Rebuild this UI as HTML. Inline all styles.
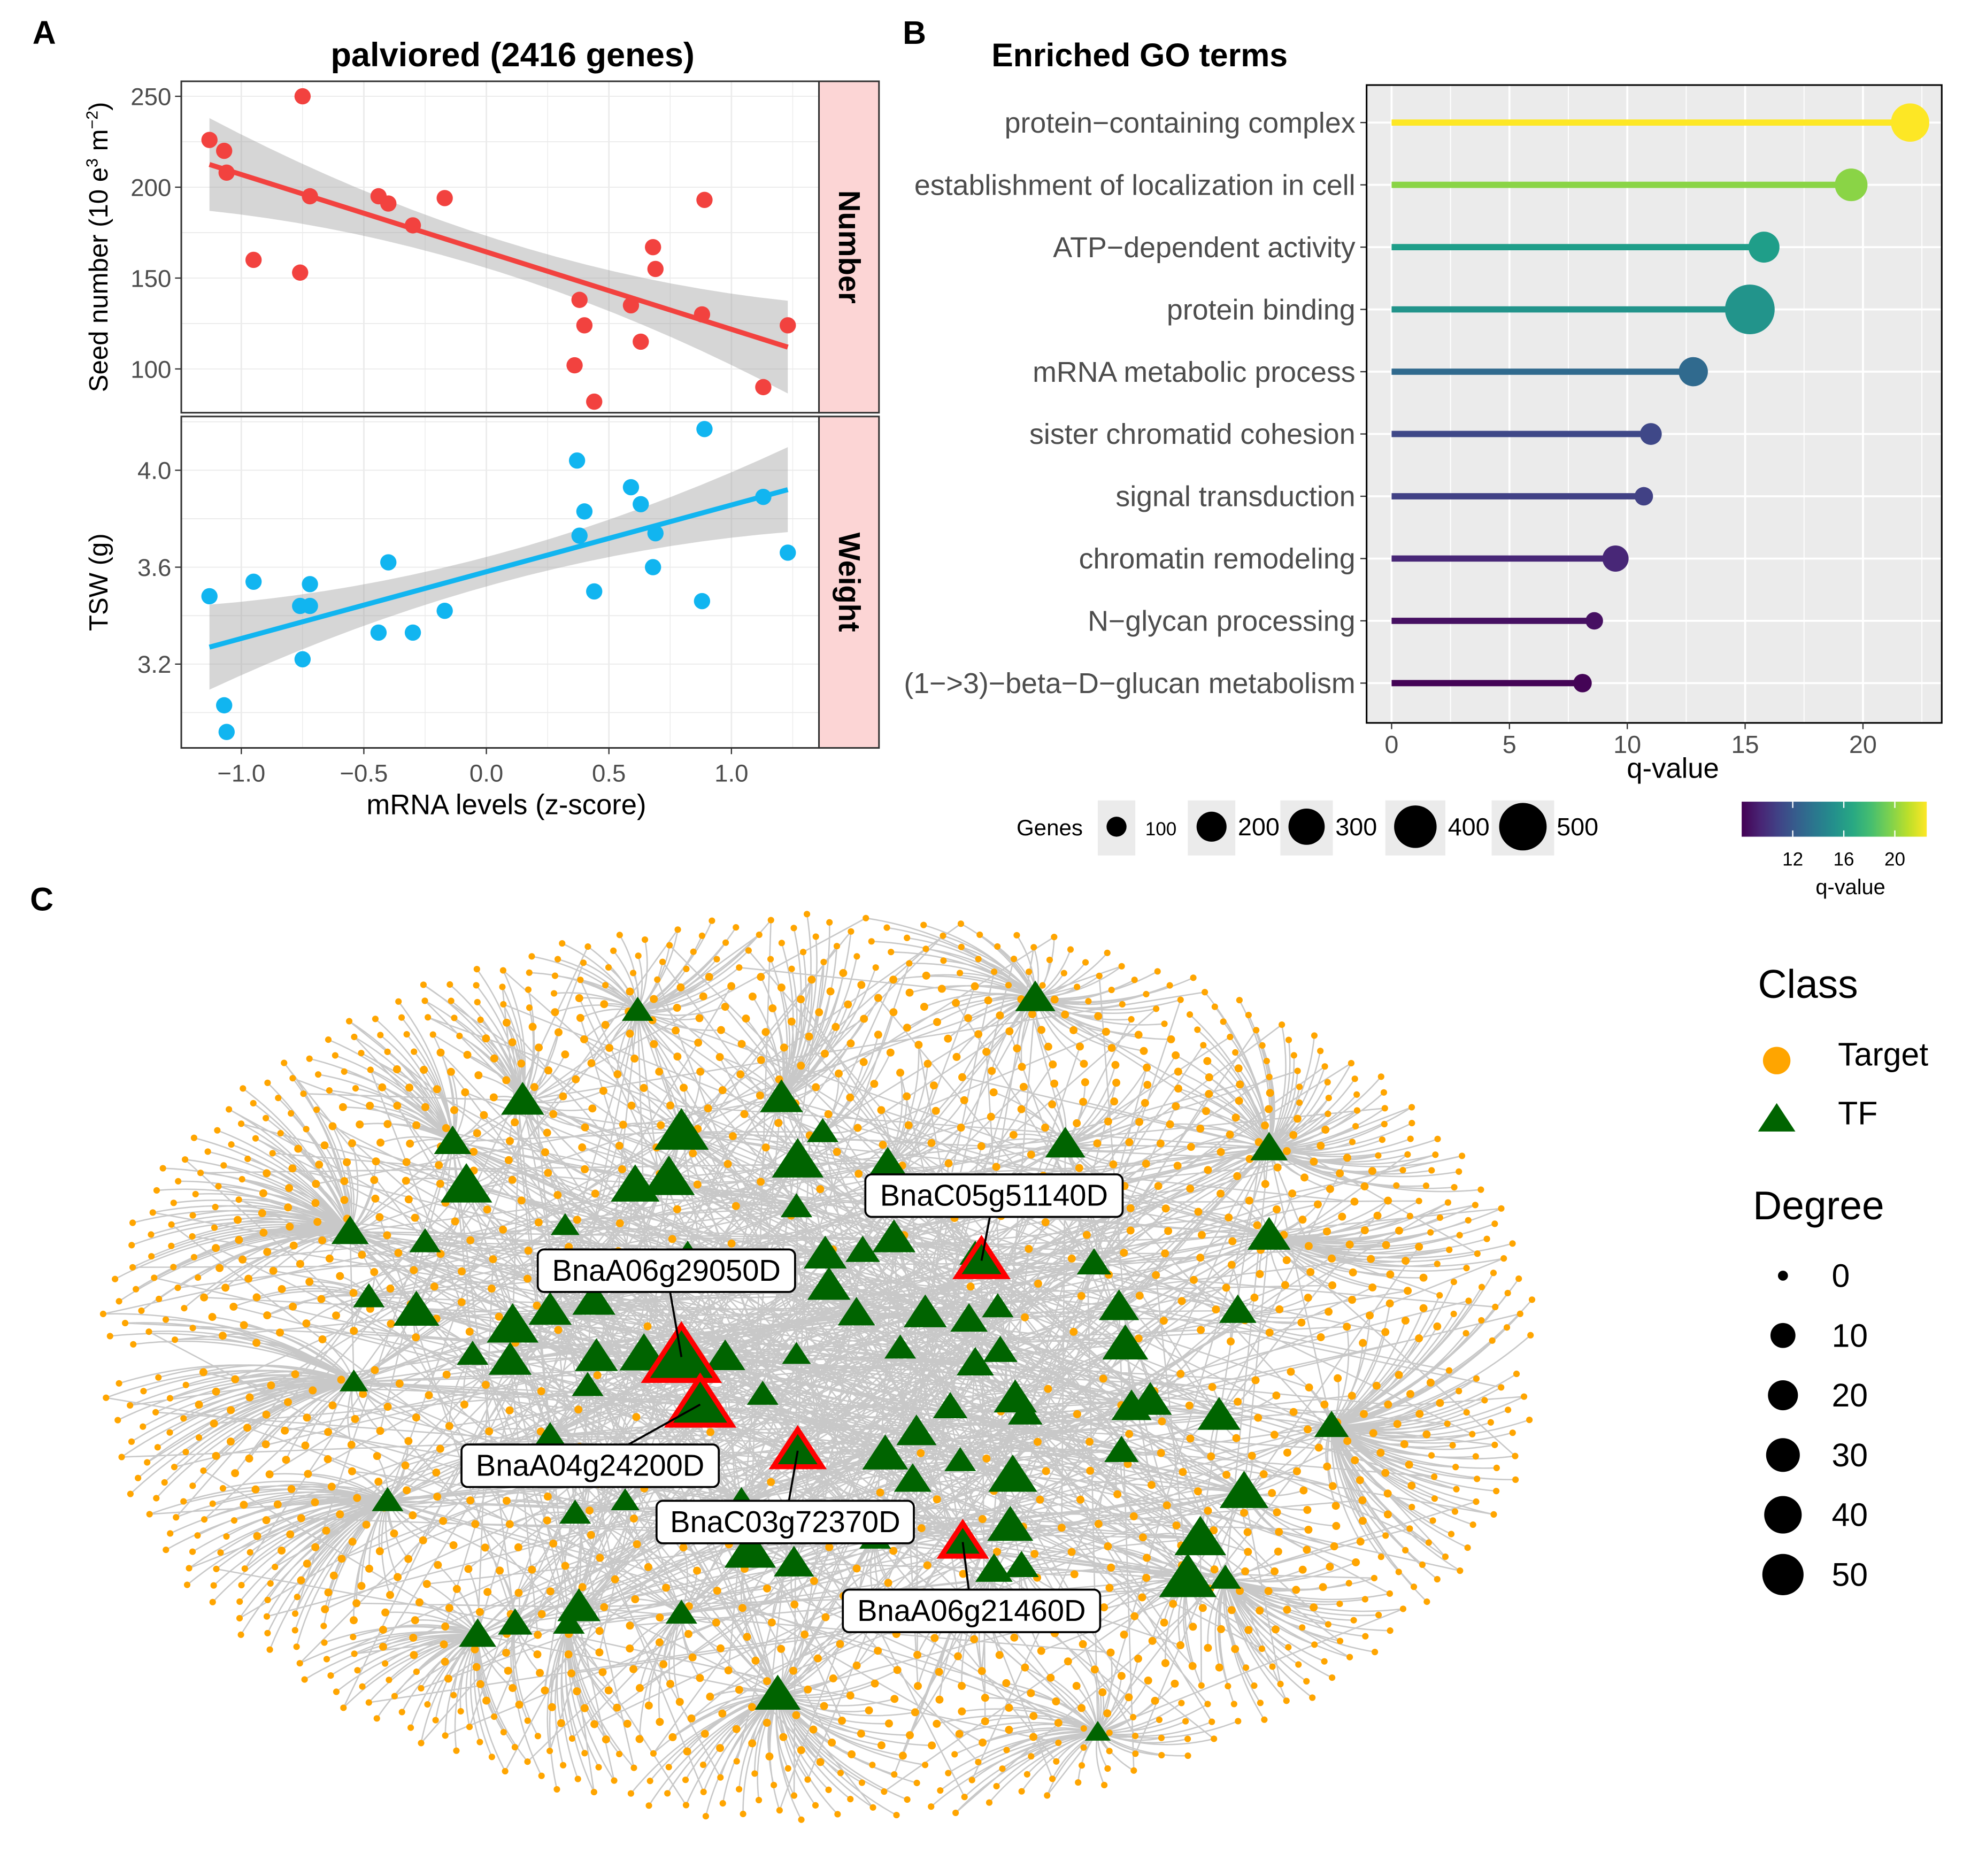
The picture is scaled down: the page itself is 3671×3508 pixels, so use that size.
<!DOCTYPE html>
<html><head><meta charset="utf-8">
<style>
html,body{margin:0;padding:0;background:#fff;}
svg{display:block;font-family:"Liberation Sans",Arial,sans-serif;}
</style></head>
<body>
<svg id="fig" width="3671" height="3508" viewBox="0 0 1570 1500" preserveAspectRatio="none" xmlns="http://www.w3.org/2000/svg">
<rect width="1570" height="1500" fill="#fff"/>
<g id="pa"></g>
<g id="pb"></g>
<g id="pc"></g>
</svg>
<script>
// ---------- Panel A data ----------
const aX = [-1.13,-1.07,-1.06,-0.75,-0.72,-0.95,-0.76,-0.44,-0.40,-0.30,-0.17,0.38,0.40,0.36,0.44,0.59,0.63,0.68,0.69,0.89,0.88,1.13,1.23];
const seedNum = [226,220,208,250,195,160,153,195,191,179,194,138,124,102,82,135,115,167,155,193,130,90,124];
const bX = [-1.13,-1.07,-1.06,-0.95,-0.76,-0.72,-0.72,-0.75,-0.44,-0.40,-0.30,-0.17,0.37,0.38,0.40,0.44,0.59,0.63,0.68,0.69,0.89,0.88,1.13,1.23];
const tsw = [3.48,3.03,2.92,3.54,3.44,3.44,3.53,3.22,3.33,3.62,3.33,3.42,4.04,3.73,3.83,3.50,3.93,3.86,3.60,3.74,4.17,3.46,3.89,3.66];
const xTicks = [-1.0,-0.5,0.0,0.5,1.0];
const numTicks = [100,150,200,250];
const tswTicks = [3.2,3.6,4.0];
// ---------- Panel B data ----------
const goTerms = ["protein\u2212containing complex","establishment of localization in cell","ATP\u2212dependent activity","protein binding","mRNA metabolic process","sister chromatid cohesion","signal transduction","chromatin remodeling","N\u2212glycan processing","(1\u2212>3)\u2212beta\u2212D\u2212glucan metabolism"];
const goQ = [22,19.5,15.8,15.2,12.8,11,10.7,9.5,8.6,8.1];
const goGenes = [230,150,130,440,110,45,25,80,20,25];
const qTicks = [0,5,10,15,20];

const NS="http://www.w3.org/2000/svg";
function el(tag,attrs,parent,txt){const e=document.createElementNS(NS,tag);for(const k in attrs)e.setAttribute(k,attrs[k]);if(txt!==undefined)e.textContent=txt;parent.appendChild(e);return e;}
const pa=document.getElementById('pa'),pb=document.getElementById('pb'),pc=document.getElementById('pc');

const ax=v=>389+v*196;
const ayTop=v=>77+(250-v)*1.4533;
const ayBot=v=>376+(4.0-v)*193.75;
let t;
t=el('text',{x:26,y:35,'font-size':26,'font-weight':'bold'},pa,'A');

t=el('text',{x:410,y:53,'font-size':27,'font-weight':'bold','text-anchor':'middle'},pa,'palviored (2416 genes)');

function facet(y0,y1,ticks,sy,xs,ys,col,lineA,lineB,strip,ytitle,name){
  const g=el('g',{},pa);
  el('rect',{x:145,y:y0,width:510,height:y1-y0,fill:'#fff'},g);
  for(let v=-1.25;v<=1.25;v+=0.25){const X=ax(v);if(X<145||X>655)continue;const major=Math.abs(v*2-Math.round(v*2))<1e-6;el('line',{x1:X,x2:X,y1:y0,y2:y1,stroke:'#ebebeb','stroke-width':major?1.2:0.6},g);}
  const step=ticks[1]-ticks[0];
  for(let v=ticks[0]-step;v<=ticks[ticks.length-1]+step;v+=step/2){const Y=sy(v);if(Y<y0||Y>y1)continue;el('line',{x1:145,x2:655,y1:Y,y2:Y,stroke:'#ebebeb','stroke-width':0.8},g);}
  const xa=-1.13,xb=1.23;const ya=lineA,yb=lineB;
  const pts=[],pts2=[];
  for(let i=0;i<=20;i++){const xv=xa+(xb-xa)*i/20;const yv=ya+(yb-ya)*i/20;const d=(xv-0.05);const w=(strip==='Number'?16:0.11)*(0.55+0.75*d*d);pts.push(ax(xv)+','+sy(yv+w));pts2.unshift(ax(xv)+','+sy(yv-w));}
  const rb=el('polygon',{points:pts.concat(pts2).join(' '),fill:'#999','fill-opacity':0.4},g);
  
  for(let i=0;i<xs.length;i++){const c=el('circle',{cx:ax(xs[i]),cy:sy(ys[i]),r:6.5,fill:col},g);}
  const ln=el('line',{x1:ax(xa),y1:sy(ya),x2:ax(xb),y2:sy(yb),stroke:col,'stroke-width':4},g);
  
  el('rect',{x:145,y:y0,width:510,height:y1-y0,fill:'none',stroke:'#333','stroke-width':1.3},g);
  el('rect',{x:655,y:y0,width:48,height:y1-y0,fill:'#fcd5d5',stroke:'#333','stroke-width':1.3},g);
  const st=el('text',{x:679,y:(y0+y1)/2,'font-size':24,'font-weight':'bold','text-anchor':'middle',transform:`rotate(90 679 ${(y0+y1)/2})`,dy:8},g,strip);
  
  ticks.forEach(v=>{const Y=sy(v);el('line',{x1:140,x2:145,y1:Y,y2:Y,stroke:'#333'},g);const tt=el('text',{x:137,y:Y+7,'font-size':19.5,fill:'#4d4d4d','text-anchor':'end'},g,String(strip==='Weight'?v.toFixed(1):v));});
  const yt=el('text',{x:86,y:(y0+y1)/2,'font-size':21,'text-anchor':'middle',transform:`rotate(-90 86 ${(y0+y1)/2})`},g);
  yt.innerHTML=ytitle;
}
facet(65,330,numTicks,ayTop,aX,seedNum,'#f2423f',212.5,112,'Number','Seed number (10 e<tspan font-size="13" dy="-8">3</tspan><tspan dy="8"> m</tspan><tspan font-size="13" dy="-8">\u22122</tspan><tspan dy="8">)</tspan>','facet-number');
facet(333,598,tswTicks,ayBot,bX,tsw,'#11b5f0',3.27,3.92,'Weight','TSW (g)','facet-weight');
xTicks.forEach(v=>{const X=ax(v);el('line',{x1:X,x2:X,y1:598,y2:603,stroke:'#333'},pa);const tt=el('text',{x:X,y:625,'font-size':19.5,fill:'#4d4d4d','text-anchor':'middle'},pa,(v<0?'\u2212':'')+Math.abs(v).toFixed(1));});
t=el('text',{x:405,y:651,'font-size':22.5,'text-anchor':'middle'},pa,'mRNA levels (z-score)');

// ---------- Panel B ----------
const bxs=v=>1113+v*18.85;
const rowY=i=>98+i*49.8;
function viridis(f){const s=[[68,1,84],[72,40,120],[62,74,137],[49,104,142],[38,130,142],[31,158,137],[53,183,121],[110,206,88],[181,222,43],[253,231,37]];f=Math.max(0,Math.min(1,f));const p=f*(s.length-1),i=Math.floor(p),r=p-i,a=s[i],b=s[Math.min(i+1,s.length-1)];return `rgb(${a.map((c,k)=>Math.round(c+(b[k]-c)*r)).join(',')})`;}
const qmin=8,qmax=22;
const gsz=n=>3.5+Math.sqrt(n)*0.78;
t=el('text',{x:722,y:35,'font-size':26,'font-weight':'bold'},pb,'B');
t=el('text',{x:793,y:53,'font-size':26,'font-weight':'bold'},pb,'Enriched GO terms');
el('rect',{x:1093,y:68,width:460,height:510,fill:'#ebebeb'},pb);
for(let v=-2.5;v<=23;v+=2.5){const X=bxs(v);if(X<1093||X>1553)continue;el('line',{x1:X,x2:X,y1:68,y2:578,stroke:'#fff','stroke-width':(v%5===0)?1.6:0.8},pb);}
goTerms.forEach((g,i)=>{const Y=rowY(i);el('line',{x1:1093,x2:1553,y1:Y,y2:Y,stroke:'#fff','stroke-width':1.6},pb);});
goTerms.forEach((g,i)=>{const Y=rowY(i);const c=viridis((goQ[i]-qmin)/(qmax-qmin));
 const l=el('line',{x1:bxs(0),x2:bxs(goQ[i]),y1:Y,y2:Y,stroke:c,'stroke-width':5},pb);
 const d=el('circle',{cx:bxs(goQ[i]),cy:Y,r:gsz(goGenes[i]),fill:c},pb);
 el('line',{x1:1088,x2:1093,y1:Y,y2:Y,stroke:'#333'},pb);
 const tt=el('text',{x:1084,y:Y+8,'font-size':23,fill:'#4d4d4d','text-anchor':'end'},pb,g);});
el('rect',{x:1093,y:68,width:460,height:510,fill:'none',stroke:'#000','stroke-width':1.3},pb);
qTicks.forEach(v=>{const X=bxs(v);el('line',{x1:X,x2:X,y1:578,y2:583,stroke:'#333'},pb);const tt=el('text',{x:X,y:602,'font-size':20,fill:'#4d4d4d','text-anchor':'middle'},pb,String(v));});
t=el('text',{x:1338,y:622,'font-size':22.5,'text-anchor':'middle'},pb,'q-value');
t=el('text',{x:813,y:668,'font-size':18},pb,'Genes');
const genesLeg=[100,200,300,400,500],legX=[878,950,1024,1108,1193],legW=[30,38,42,48,50];
genesLeg.forEach((n,i)=>{el('rect',{x:legX[i],y:640,width:legW[i],height:44,fill:'#ebebeb'},pb);const c=el('circle',{cx:legX[i]+legW[i]/2,cy:661,r:[8,12,14.5,17,19][i],fill:'#000'},pb);
 const tt=el('text',{x:legX[i]+legW[i]+(i==0?8:2),y:668,'font-size':i==0?15:20},pb,String(n));});
const defs=el('defs',{},pb);const lg=el('linearGradient',{id:'vg',x1:0,x2:1,y1:0,y2:0},defs);
for(let i=0;i<=10;i++)el('stop',{offset:i/10,'stop-color':viridis(i/10)},lg);
const cb=el('rect',{x:1393,y:641,width:148,height:28,fill:'url(#vg)'},pb);
[12,16,20].forEach(v=>{const X=1393+(v-8)/(22.5-8)*148;el('line',{x1:X,x2:X,y1:641,y2:646,stroke:'#fff'},pb);el('line',{x1:X,x2:X,y1:664,y2:669,stroke:'#fff'},pb);const tt=el('text',{x:X,y:692,'font-size':15,'text-anchor':'middle'},pb,String(v));});
t=el('text',{x:1480,y:715,'font-size':17,'text-anchor':'middle'},pb,'q-value');

// ---------- Panel C: network ----------
const tfX=[510,828,418,545,625,658,362,638,852,1015,373,508,535,710,637,452,280,340,715,1015,660,690,715,780,875,550,295,333,410,440,475,663,685,740,775,798,895,990,378,408,477,515,580,637,720,780,800,900,283,470,610,760,812,820,905,920,975,1065,440,708,733,768,810,897,730,310,460,500,593,600,635,700,808,960,995,795,817,950,980,382,412,455,463,545,622,878];
const tfY=[808,798,880,905,878,905,913,928,915,918,948,948,942,930,965,980,985,993,962,988,1003,1000,990,1003,1010,1003,1037,1048,1060,1048,1040,1028,1050,1050,1055,1045,1045,1048,1083,1088,1085,1083,1085,1083,1078,1090,1080,1075,1105,1108,1115,1125,1118,1130,1125,1120,1132,1140,1148,1163,1145,1168,1180,1160,1183,1200,1210,1200,1200,1240,1250,1230,1220,1230,1193,1255,1252,1262,1262,1307,1298,1298,1285,1290,1355,1385];
const tfDeg=[22,28,30,38,30,22,26,36,28,26,36,34,36,26,22,20,26,22,24,30,30,24,30,22,24,22,22,32,36,30,30,30,26,30,26,22,28,26,22,30,30,34,28,20,22,26,24,32,20,22,22,24,30,24,28,30,30,24,22,32,28,22,34,24,26,22,22,20,22,36,28,22,32,36,34,26,24,40,22,26,24,22,30,22,32,18];
const hubLabels=["BnaC05g51140D","BnaA06g29050D","BnaA04g24200D","BnaC03g72370D","BnaA06g21460D"];
const hubX=[785,545,560,638,770],hubY=[1008,1085,1123,1160,1233],hubDeg=[34,50,44,34,30];
const labX=[795,533,472,628,777],labY=[956,1016,1172,1217,1288];

t=el('text',{x:24,y:728,'font-size':26,'font-weight':'bold'},pc,'C');
const allX=tfX.concat(hubX),allY=tfY.concat(hubY);
const cx=655,cy=1075,rx=575,ry=345,N=1500;
let edgeD='',tgtD='';
const tx=[],ty=[];
for(let i=1;i<=N;i++){
  let r=Math.sqrt(i/N);r=0.15+0.85*Math.pow(r,0.75);
  const a=i*2.399963;
  const x=cx+rx*r*Math.cos(a),y=cy+ry*r*Math.sin(a)*(Math.sin(a)>0?1.05:1.0)+(Math.sin(a)>0?20:0);
  tx.push(x);ty.push(y);
  let best=0,bd=1e12;for(let k=0;k<allX.length;k++){const d=(allX[k]-x)**2+(allY[k]-y)**2;if(d<bd){bd=d;best=k;}}
  const hx=allX[best],hy=allY[best];
  const mx=(x+hx)/2+(hy-y)*0.15,my=(y+hy)/2-(hx-x)*0.15;
  edgeD+=`M${hx.toFixed(1)},${hy.toFixed(1)}Q${mx.toFixed(1)},${my.toFixed(1)} ${x.toFixed(1)},${y.toFixed(1)}`;
  if(r>0.55){const k2=(best*7+i)%allX.length;if(i%3===0){edgeD+=`M${allX[k2]},${allY[k2]}L${x.toFixed(1)},${y.toFixed(1)}`;}}
  else{const k2=(best*11+i)%allX.length;edgeD+=`M${allX[k2]},${allY[k2]}L${x.toFixed(1)},${y.toFixed(1)}`;}
}
for(let k=0;k<allX.length;k++){for(let j=1;j<=3;j++){const m=(k*13+j*29)%allX.length;edgeD+=`M${allX[k]},${allY[k]}L${allX[m]},${allY[m]}`;}}
const ep=el('path',{d:edgeD,stroke:'#b5b5b5','stroke-width':1.1,fill:'none','stroke-opacity':0.75},pc);

for(let i=0;i<tx.length;i++){const r=Math.sqrt((i+1)/N);const rad=r>0.8?2.6:3.2;tgtD+=`M${(tx[i]-rad).toFixed(1)},${ty[i].toFixed(1)}a${rad},${rad} 0 1,0 ${2*rad},0a${rad},${rad} 0 1,0 ${-2*rad},0`;}
const tp=el('path',{d:tgtD,fill:'#ffa500'},pc);
function tri(x,y,s){return `${x},${y-s} ${x-s*1.15},${y+s*0.75} ${x+s*1.15},${y+s*0.75}`;}
for(let k=0;k<tfX.length;k++){const p=el('polygon',{points:tri(tfX[k],tfY[k],tfDeg[k]*0.5),fill:'#006400'},pc);}
for(let k=0;k<hubX.length;k++){
  const p=el('polygon',{points:tri(hubX[k],hubY[k],hubDeg[k]*0.5),fill:'#006400',stroke:'#ff0000','stroke-width':4},pc);
  el('line',{x1:hubX[k],y1:hubY[k],x2:labX[k],y2:labY[k],stroke:'#000','stroke-width':1.6},pc);
  const w=hubLabels[k].length*14.6+16;
  const r=el('rect',{x:labX[k]-w/2,y:labY[k]-17,width:w,height:34,rx:5,fill:'#fff',stroke:'#000','stroke-width':1.6},pc);
  const tt=el('text',{x:labX[k],y:labY[k]+8,'font-size':24,'text-anchor':'middle'},pc,hubLabels[k]);
}
t=el('text',{x:1406,y:798,'font-size':32},pc,'Class');
t=el('circle',{cx:1421,cy:848,r:11,fill:'#ffa500'},pc);
t=el('text',{x:1470,y:852,'font-size':26},pc,'Target');
t=el('polygon',{points:tri(1421,895,13),fill:'#006400'},pc);
t=el('text',{x:1470,y:899,'font-size':26},pc,'TF');
t=el('text',{x:1402,y:975,'font-size':32},pc,'Degree');
const degLeg=[0,10,20,30,40,50],degR=[4,10,12,13.5,15,16.5];
degLeg.forEach((d,i)=>{const Y=1020+i*47.8;const c=el('circle',{cx:1426,cy:Y,r:degR[i],fill:'#000'},pc);
 const tt=el('text',{x:1465,y:Y+9,'font-size':26},pc,String(d));});
</script>
</body></html>
